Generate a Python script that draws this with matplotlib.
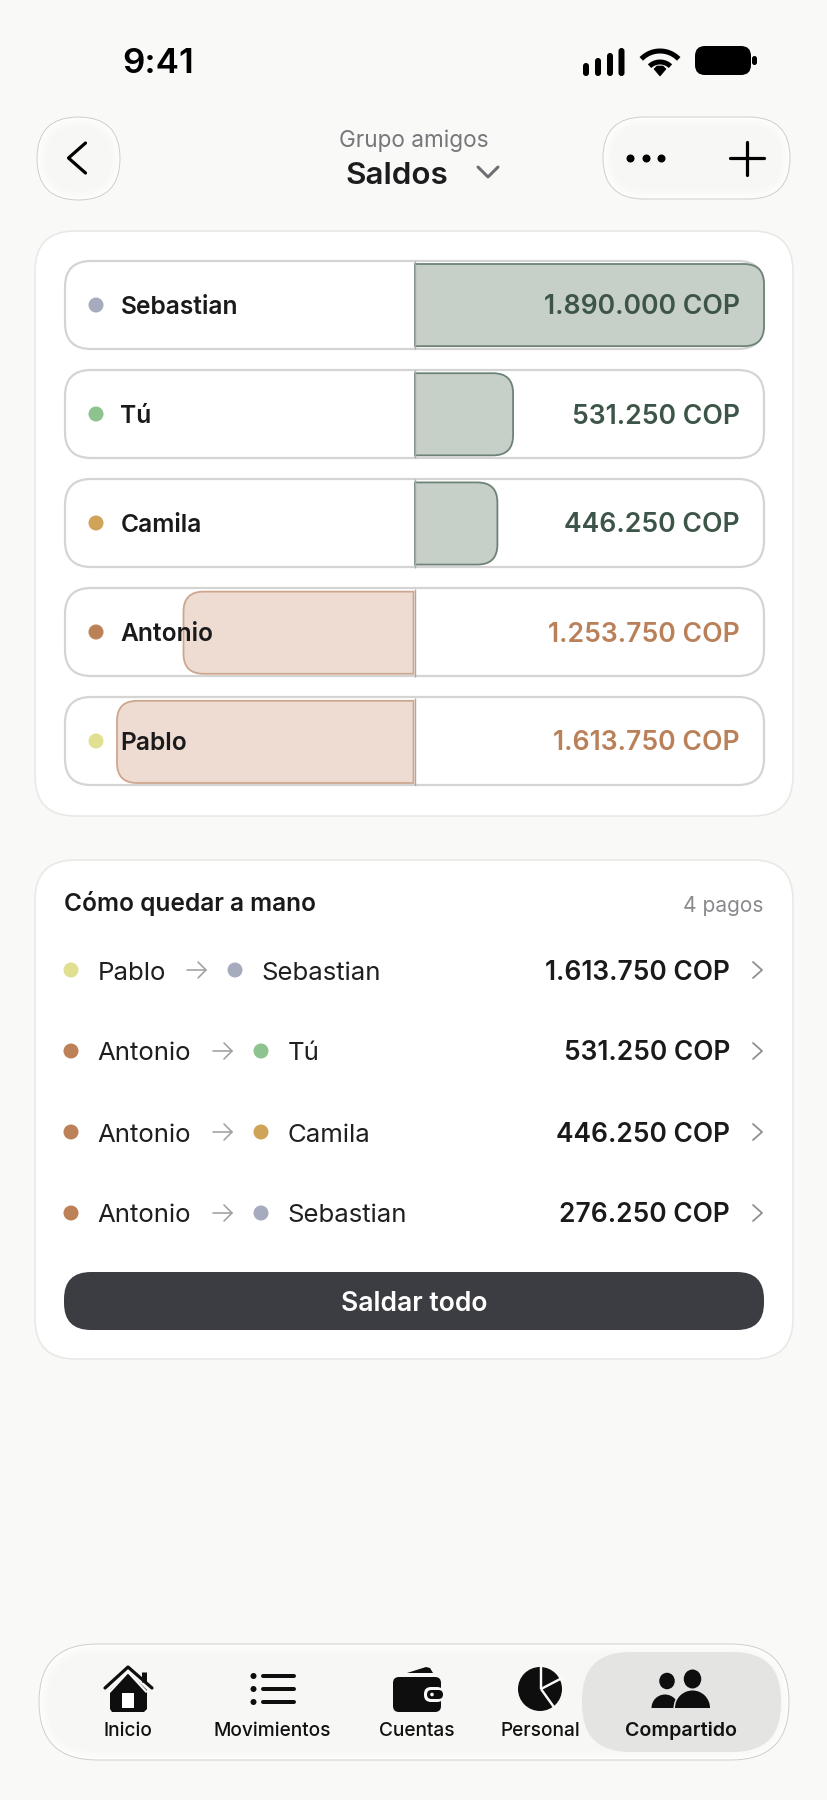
import numpy as np
import matplotlib
matplotlib.use("Agg")
import matplotlib.pyplot as plt
from matplotlib.patches import FancyBboxPatch, Circle, Ellipse, Polygon, PathPatch, Wedge
from matplotlib.path import Path

# ---- data ----
members = ["Sebastian", "Tú", "Camila", "Antonio", "Pablo"]
balances = [1890000, 531250, 446250, -1253750, -1613750]
member_colors = ["#a6abbd", "#8cc38f", "#d0a458", "#bd8158", "#e0e090"]
pay_from = ["Pablo", "Antonio", "Antonio", "Antonio"]
pay_to = ["Sebastian", "Tú", "Camila", "Sebastian"]
pay_amounts = [1613750, 531250, 446250, 276250]
nav_labels = ["Inicio", "Movimientos", "Cuentas", "Personal", "Compartido"]

FONT = "Inter"
BG = "#f9f9f7"
INK = "#1a1a1c"
COLOR_OF = dict(zip(members, member_colors))


def money(v):
    return f"{abs(v):,}".replace(",", ".") + " COP"


def pt(px):
    return px * 0.72


fig = plt.figure(figsize=(8.28, 18.0), dpi=100, facecolor=BG)
ax = fig.add_axes([0, 0, 1, 1], zorder=1)
ax.set_xlim(0, 828)
ax.set_ylim(1800, 0)
ax.axis("off")


def rrect(x0, y0, x1, y1, r, fc, ec="none", lw=0, z=2, alpha=None, target=None):
    p = FancyBboxPatch((x0, y0), x1 - x0, y1 - y0, boxstyle=f"round,pad=0,rounding_size={r}",
                       fc=fc, ec=ec, lw=pt(lw), zorder=z, alpha=alpha)
    (target or ax).add_patch(p)
    return p


def txt(x, y, s, size, color=INK, weight="normal", ha="left", z=10):
    return ax.text(x, y, s, fontsize=pt(size), color=color, fontweight=weight, ha=ha, va="baseline",
                   family=FONT, zorder=z)


def poly(pts, color, lw, z=8, cap="round"):
    a = np.array(pts)
    ax.plot(a[:, 0], a[:, 1], color=color, lw=pt(lw), solid_capstyle=cap, solid_joinstyle="round", zorder=z)


def glass(x0, y0, x1, y1, r):
    # soft drop shadow
    for i in range(12):
        g = 2 + i * 2.4
        rrect(x0 - g * 0.6, y0 + 6, x1 + g * 0.6, y1 + g * 0.9 + 4, r + g * 0.6, "#000000", alpha=0.0018, z=1)
    rrect(x0, y0, x1, y1, r, "#fdfdfc", ec="#cbcbc9", lw=0.9, z=2)
    # inner haze
    for i in range(6):
        d = 2 + i * 1.5
        rrect(x0 + d, y0 + d, x1 - d, y1 - d, max(r - d, 2), "#f4f4f2", alpha=0.10, z=2)


# ---- status bar ----
txt(122, 73, "9:41", 35, "#000000", "semibold")
for xc, top in zip([586, 598, 610, 621.5], [63, 58, 53, 48]):
    rrect(xc - 3, top, xc + 3, 76, 3, "#000000", z=5)
wc = np.array([660, 77])
for rad, lw, span in [(26, 5, 46), (15, 5, 44)]:
    th = np.radians(np.linspace(90 - span, 90 + span, 30))
    poly(np.c_[wc[0] + rad * np.cos(th), wc[1] - rad * np.sin(th)], "#000000", lw, cap="butt")
ax.add_patch(Polygon([(660, 76), (654, 69), (657, 66), (663, 66), (666, 69)], fc="#000000", ec="#000000", lw=0.5, zorder=8))
rrect(695, 46, 751, 75, 10, "#000000", z=5)
rrect(752, 56, 757, 65, 2.5, "#000000", z=5)

# ---- header ----
glass(37, 117, 120, 200, 41.5)
poly([(85.5, 143), (68.5, 158), (85.5, 173)], "#000000", 3.2)
glass(603, 117, 790, 199, 41)
ax.scatter([630, 646, 661], [158, 158, 158], s=(pt(8)) ** 2, c="#000000", lw=0, zorder=8)
poly([(730, 158), (764, 158)], "#000000", 3.2)
poly([(747, 142), (747, 175)], "#000000", 3.2)
txt(413.5, 147, "Grupo amigos", 22.6, "#77777b", "normal", ha="center")
txt(345, 183.5, "Saldos", 31.4, "#1c1c1e", "semibold")
poly([(478, 167), (488, 177), (498, 167)], "#6e6e72", 3)

# ---- cards ----
rrect(35, 231, 793, 816, 40, "#ffffff", ec="#e8e8e6", lw=1.6, z=2)
rrect(35, 860, 793, 1359, 40, "#ffffff", ec="#e8e8e6", lw=1.6, z=2)

# ---- balance rows: real scale for the bars ----
ZERO_PX, LEFT_PX, RIGHT_PX = 415.0, 65.0, 764.0
TOP_PX, BOT_PX, PITCH = 261.0, 786.0, 109.0
ROW_H = 88.0
BAR_H = 82.0
cop_per_px = max(balances) / (RIGHT_PX - ZERO_PX)

ax_bars = fig.add_axes([LEFT_PX / 828, 1 - BOT_PX / 1800, (RIGHT_PX - LEFT_PX) / 828, (BOT_PX - TOP_PX) / 1800], zorder=2)
ax_bars.set_xlim((LEFT_PX - ZERO_PX) * cop_per_px, (RIGHT_PX - ZERO_PX) * cop_per_px)
half = (ROW_H / 2) / PITCH
ax_bars.set_ylim(len(members) - 1 + half + 0.0, -half)
ax_bars.axis("off")
ax_bars.patch.set_alpha(0)


def bar_path(v, i, r_px=20.0):
    s = 1 if v > 0 else -1
    h = BAR_H / PITCH / 2
    rx = r_px * cop_per_px * s
    ry = r_px / PITCH
    base = -1.5 * cop_per_px if v < 0 else 0
    verts = [(base, i - h), (v - rx, i - h), (v, i - h), (v, i - h + ry), (v, i + h - ry), (v, i + h), (v - rx, i + h), (base, i + h), (base, i - h)]
    codes = [Path.MOVETO, Path.LINETO, Path.CURVE3, Path.CURVE3, Path.LINETO, Path.CURVE3, Path.CURVE3, Path.LINETO, Path.CLOSEPOLY]
    return Path(verts, codes)


for i, (name, v) in enumerate(zip(members, balances)):
    cy = TOP_PX + ROW_H / 2 + i * PITCH
    rrect(LEFT_PX, cy - ROW_H / 2, RIGHT_PX, cy + ROW_H / 2, 26, "#ffffff", ec="#d4d4d4", lw=2.2, z=3)
    fill, edge = ("#c7cfc9", "#6d8376") if v > 0 else ("#eedcd3", "#cda68e")
    ax_bars.add_patch(PathPatch(bar_path(v, i), fc=fill, ec=edge, lw=pt(1.8), zorder=2, clip_on=False))
    ax_bars.vlines(0, i - half, i + half, color="#a9a9a9", lw=pt(1.4), zorder=3)
    ax_bars.add_patch(Circle((96, cy), 7.5, fc=member_colors[i], ec="none", transform=ax.transData, zorder=5, clip_on=False))
    ax_bars.text(120.5, cy + 9, name, transform=ax.transData, fontsize=pt(24.6), fontweight="semibold", family=FONT,
                 color=INK, ha="left", va="baseline", zorder=6)
    ax_bars.text(740, cy + 9.5, money(v), transform=ax.transData, fontsize=pt(26.6), fontweight="semibold", family=FONT,
                 color="#3d5548" if v > 0 else "#b98059", ha="right", va="baseline", zorder=6)

# ---- settlement card ----
txt(64, 911.5, "Cómo quedar a mano", 24.5, INK, "semibold")
txt(763.5, 911.5, "4 pagos", 20.9, "#8a8a8e", "normal", ha="right")
arrow_start = {"Pablo": 187, "Antonio": 213}
for k, (a, b, amt) in enumerate(zip(pay_from, pay_to, pay_amounts)):
    cy = 970 + k * 81
    ax.add_patch(Circle((71, cy), 7.5, fc=COLOR_OF[a], ec="none", zorder=6))
    txt(97.5, cy + 9.5, a, 25.8, "#1f1f21", "normal")
    x0 = arrow_start[a]
    poly([(x0, cy), (x0 + 19, cy)], "#a0a0a3", 1.6)
    poly([(x0 + 11, cy - 8), (x0 + 19, cy), (x0 + 11, cy + 8)], "#a0a0a3", 1.6)
    ax.add_patch(Circle((x0 + 48, cy), 7.5, fc=COLOR_OF[b], ec="none", zorder=6))
    txt(x0 + 74.5, cy + 9.5, b, 25.8, "#1f1f21", "normal")
    txt(730, cy + 9.5, money(amt), 26.3, INK, "semibold", ha="right")
    poly([(753, cy - 8), (762, cy), (753, cy + 8)], "#8e8e93", 1.8)

rrect(64, 1272, 764, 1330, 27, "#3c3d42", z=4)
txt(414.5, 1311, "Saldar todo", 26.5, "#ffffff", "semibold", ha="center")

# ---- bottom navigation ----
glass(39, 1644, 789, 1760, 58)
rrect(582, 1652, 781, 1752, 48, "#e4e4e2", z=3)
nav_x = [128, 272, 416.5, 540, 681]
for lx, lab in zip(nav_x, nav_labels):
    sel = lab == "Compartido"
    txt(lx, 1735.5, lab, 19.6 if sel else 19.1, "#111111", "semibold" if sel else "medium", ha="center")

K = "#0e0e0e"
# home
ax.add_patch(Polygon([(128, 1672), (147, 1690), (147, 1709), (144, 1712), (112, 1712), (110, 1709), (110, 1690)], fc=K, ec="none", zorder=7))
poly([(144.5, 1672), (144.5, 1682)], K, 5, cap="butt")
poly([(105, 1688), (128, 1667), (152, 1688)], K, 3.2)
ax.plot([110, 128, 146], [1691.5, 1672, 1691.5], color="#fbfbfa", lw=pt(2.2), zorder=7.5)
rrect(122, 1693, 134, 1708, 0.5, "#ffffff", z=8)
# list
for yy in [1676, 1689, 1702]:
    ax.add_patch(Circle((253.5, yy), 3, fc=K, ec="none", zorder=7))
    poly([(263, yy), (294, yy)], K, 4)
# wallet
rrect(393, 1677, 441, 1712, 6, K, z=7)
ax.add_patch(Polygon([(407, 1673), (426, 1667), (430, 1668), (433, 1673)], fc=K, ec="none", zorder=7))
rrect(424, 1687, 444, 1702, 7, "#fafafa", z=8)
rrect(427, 1690, 443, 1699, 4.5, K, z=9)
ax.add_patch(Circle((432, 1694.5), 1.8, fc="#fafafa", ec="none", zorder=10))
# pie
pc = (541, 1689)
ax.add_patch(Circle((540, 1689), 22, fc=K, ec="none", zorder=7))
for q in [(541, 1664), (564, 1677), (556, 1710)]:
    poly([pc, q], "#fbfbfa", 2.4, z=8, cap="butt")
# people
ax.add_patch(Ellipse((667, 1681), 15.5, 16.5, fc=K, ec="none", zorder=7))
ax.add_patch(Ellipse((692.5, 1679), 17.5, 19, fc=K, ec="none", zorder=7))
ax.add_patch(Wedge((665, 1708), 13.5, 180, 360, fc=K, ec="none", zorder=7))
ax.add_patch(Wedge((692.5, 1708), 17.5, 180, 360, fc="#e4e4e2", ec="#e4e4e2", lw=pt(3), zorder=7.5))
ax.add_patch(Wedge((692.5, 1708), 17.5, 180, 360, fc=K, ec="none", zorder=7.6))

fig.savefig("out.png", dpi=100, facecolor=BG)
